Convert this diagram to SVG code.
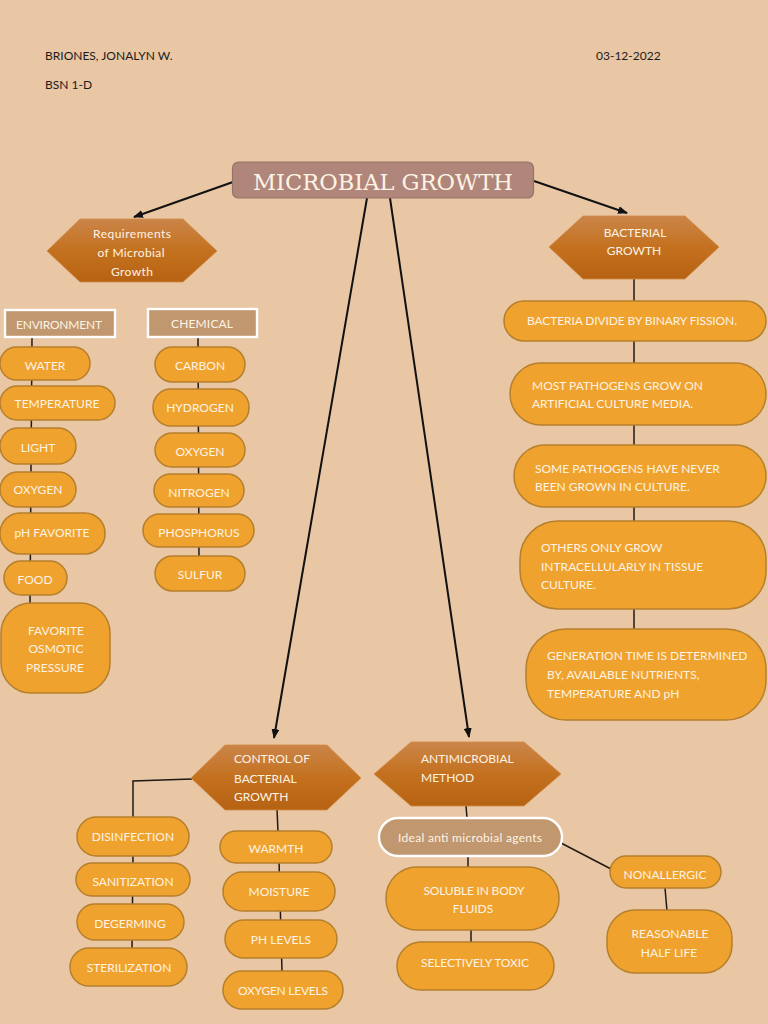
<svg xmlns="http://www.w3.org/2000/svg" width="768" height="1024" viewBox="0 0 768 1024">
<style>
text{font-family:"Lato","Liberation Sans",sans-serif;font-size:12px;fill:#fdf3e3;text-anchor:middle}
text.l{text-anchor:start}
text.k{font-size:12px;fill:#1c1c1c;text-anchor:start}
.p{fill:#f0a22e;stroke:#b57f2c;stroke-width:1.5}
.h{fill:url(#hx);stroke:#d08a45;stroke-width:.8}
.b{fill:#c1976f;stroke:#fff;stroke-width:2.4}
.c line,.c path{stroke:#1f1a15;stroke-width:1.5;fill:none}
.c line.a{stroke:#111;stroke-width:2;marker-end:url(#ar)}
</style>
<defs>
<linearGradient id="hx" x1="0" y1="0" x2="0" y2="1"><stop offset="0" stop-color="#cb8549"/><stop offset=".5" stop-color="#c4711f"/><stop offset="1" stop-color="#b66213"/></linearGradient>
<marker id="ar" markerUnits="userSpaceOnUse" markerWidth="10" markerHeight="8" viewBox="0 0 10 8" refX="9" refY="4" orient="auto"><path d="M0 0L10 4L0 8Z" fill="#111"/></marker>
</defs>
<rect width="768" height="1024" fill="#e9c6a4"/>
<text class="k" x="45" y="60">BRIONES, JONALYN W.</text>
<text class="k" x="596" y="60">03-12-2022</text>
<text class="k" x="45" y="89">BSN 1-D</text>
<g class="c" id="connectors">
<line class="a" x1="233" y1="182" x2="134" y2="217"/>
<line class="a" x1="534" y1="181" x2="627" y2="213"/>
<line class="a" x1="367" y1="198" x2="274" y2="738"/>
<line class="a" x1="390" y1="198" x2="469" y2="737"/>
<line x1="32" y1="337" x2="30" y2="606"/>
<line x1="198" y1="337" x2="199" y2="560"/>
<line x1="634" y1="278" x2="634" y2="630"/>
<path d="M192 779L133 781V818"/>
<line x1="133" y1="855" x2="132" y2="950"/>
<line x1="277" y1="809" x2="278" y2="832"/>
<line x1="279" y1="860" x2="282" y2="972"/>
<line x1="466" y1="806" x2="467" y2="818"/>
<line x1="468" y1="855" x2="468" y2="868"/>
<line x1="471" y1="929" x2="471" y2="943"/>
<line x1="561" y1="843" x2="611" y2="869"/>
<line x1="665" y1="888" x2="667" y2="911"/>
</g>
<g id="title"><rect x="232.500" y="162" width="301" height="36" rx="6" fill="#b0857a" stroke="#97726a" stroke-width="1.200"/><text x="383" y="190" style="font-family:'DejaVu Serif','Liberation Serif',serif;font-size:22px" textLength="260" lengthAdjust="spacingAndGlyphs">MICROBIAL GROWTH</text></g>
<g id="req"><polygon class="h" points="47,251 80,219 183,219 217,251 183,282 80,282"/><text x="132" y="238" textLength="78">Requirements</text><text x="131" y="257" textLength="67">of Microbial</text><text x="132" y="276" textLength="42">Growth</text></g>
<g id="bac"><polygon class="h" points="549,247 583,216 685,216 719,247 685,279 583,279"/><text x="635" y="237">BACTERIAL</text><text x="634" y="255">GROWTH</text></g>
<g id="env"><rect class="b" x="5" y="310" width="110" height="27"/><text x="59" y="329" textLength="86">ENVIRONMENT</text></g>
<g id="che"><rect class="b" x="148" y="309" width="109" height="28"/><text x="202" y="328" textLength="62">CHEMICAL</text></g>
<g id="n1"><rect class="p" x="0" y="347" width="90" height="33" rx="16.500"/><text x="45" y="370">WATER</text></g>
<g id="n2"><rect class="p" x="0" y="386" width="115" height="34" rx="17"/><text x="57" y="408" textLength="85">TEMPERATURE</text></g>
<g id="n3"><rect class="p" x="0" y="428" width="76" height="36" rx="18"/><text x="38" y="452">LIGHT</text></g>
<g id="n4"><rect class="p" x="0" y="472" width="76" height="35" rx="17.500"/><text x="38" y="494">OXYGEN</text></g>
<g id="n5"><rect class="p" x="0" y="513" width="105" height="41" rx="20"/><text x="52" y="537" textLength="75">pH FAVORITE</text></g>
<g id="n6"><rect class="p" x="4" y="561" width="63" height="34" rx="17"/><text x="35" y="584">FOOD</text></g>
<g id="n7"><rect class="p" x="1" y="603" width="109" height="90" rx="30"/><text x="56" y="635">FAVORITE</text><text x="56" y="653">OSMOTIC</text><text x="55" y="672">PRESSURE</text></g>
<g id="c1"><rect class="p" x="155" y="347" width="90" height="35" rx="17.500"/><text x="200" y="370">CARBON</text></g>
<g id="c2"><rect class="p" x="153" y="389" width="96" height="37" rx="18"/><text x="200" y="412">HYDROGEN</text></g>
<g id="c3"><rect class="p" x="155" y="433" width="90" height="34" rx="17"/><text x="200" y="456">OXYGEN</text></g>
<g id="c4"><rect class="p" x="154" y="474" width="90" height="33" rx="16.500"/><text x="199" y="497">NITROGEN</text></g>
<g id="c5"><rect class="p" x="143" y="514" width="111" height="33" rx="16.500"/><text x="199" y="537">PHOSPHORUS</text></g>
<g id="c6"><rect class="p" x="155" y="556" width="90" height="35" rx="17.500"/><text x="200" y="579">SULFUR</text></g>
<g id="b1"><rect class="p" x="504" y="301" width="262" height="40" rx="20"/><text x="632" y="325" textLength="210">BACTERIA DIVIDE BY BINARY FISSION.</text></g>
<g id="b2"><rect class="p" x="510" y="363" width="256" height="62" rx="31"/><text class="l" x="532" y="390">MOST PATHOGENS GROW ON</text><text class="l" x="532" y="408">ARTIFICIAL CULTURE MEDIA.</text></g>
<g id="b3"><rect class="p" x="514" y="445" width="252" height="62" rx="31"/><text class="l" x="535" y="473">SOME PATHOGENS HAVE NEVER</text><text class="l" x="535" y="491">BEEN GROWN IN CULTURE.</text></g>
<g id="b4"><rect class="p" x="520" y="521" width="246" height="88" rx="38"/><text class="l" x="541" y="552">OTHERS ONLY GROW</text><text class="l" x="541" y="571">INTRACELLULARLY IN TISSUE</text><text class="l" x="541" y="589">CULTURE.</text></g>
<g id="b5"><rect class="p" x="526" y="629" width="240" height="91" rx="40"/><text class="l" x="547" y="660">GENERATION TIME IS DETERMINED</text><text class="l" x="547" y="679">BY, AVAILABLE NUTRIENTS,</text><text class="l" x="547" y="698">TEMPERATURE AND pH</text></g>
<g id="ctl"><polygon class="h" points="191,778 225,745 327,745 361,778 327,810 225,810"/><text class="l" x="234" y="763">CONTROL OF</text><text class="l" x="234" y="783">BACTERIAL</text><text class="l" x="234" y="801">GROWTH</text></g>
<g id="ant"><polygon class="h" points="374,774 411,742 524,742 561,774 524,806 411,806"/><text class="l" x="421" y="763">ANTIMICROBIAL</text><text class="l" x="421" y="782">METHOD</text></g>
<g id="d1"><rect class="p" x="77" y="817" width="112" height="39" rx="19.500"/><text x="133" y="841">DISINFECTION</text></g>
<g id="d2"><rect class="p" x="76" y="863" width="114" height="33" rx="16.500"/><text x="133" y="886">SANITIZATION</text></g>
<g id="d3"><rect class="p" x="77" y="904" width="107" height="36" rx="18"/><text x="130" y="928">DEGERMING</text></g>
<g id="d4"><rect class="p" x="70" y="948" width="117" height="38" rx="19"/><text x="129" y="972">STERILIZATION</text></g>
<g id="e1"><rect class="p" x="220" y="831" width="112" height="32" rx="16"/><text x="276" y="853">WARMTH</text></g>
<g id="e2"><rect class="p" x="223" y="872" width="112" height="39" rx="19.500"/><text x="279" y="896">MOISTURE</text></g>
<g id="e3"><rect class="p" x="225" y="920" width="112" height="38" rx="19"/><text x="281" y="944">PH LEVELS</text></g>
<g id="e4"><rect class="p" x="223" y="971" width="120" height="38" rx="19"/><text x="283" y="995" textLength="90">OXYGEN LEVELS</text></g>
<g id="ideal"><rect class="b" x="379" y="818" width="183" height="38" rx="19"/><text x="470" y="842" textLength="144">Ideal anti microbial agents</text></g>
<g id="f1"><rect class="p" x="386" y="867" width="173" height="63" rx="31"/><text x="474" y="895" textLength="101">SOLUBLE IN BODY</text><text x="473" y="913">FLUIDS</text></g>
<g id="f2"><rect class="p" x="397" y="942" width="157" height="48" rx="24"/><text x="475" y="967" textLength="108">SELECTIVELY TOXIC</text></g>
<g id="g1"><rect class="p" x="610" y="856" width="111" height="32" rx="16"/><text x="665" y="879">NONALLERGIC</text></g>
<g id="g2"><rect class="p" x="607" y="910" width="125" height="63" rx="28"/><text x="670" y="938">REASONABLE</text><text x="669" y="957">HALF LIFE</text></g>
</svg>
